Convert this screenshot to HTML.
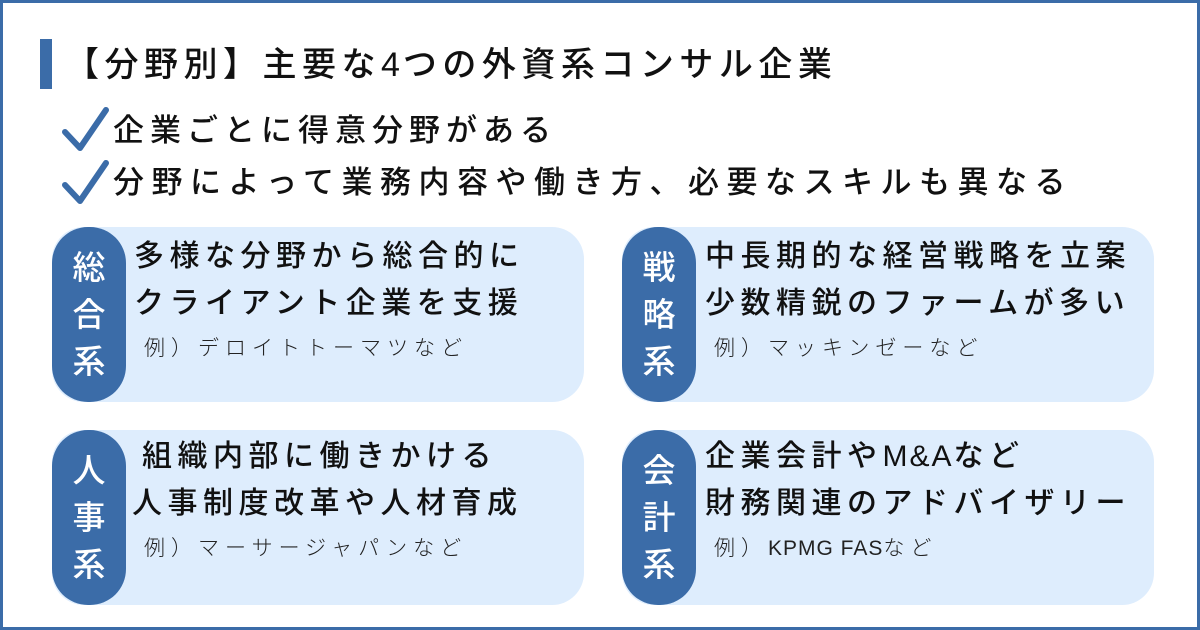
<!DOCTYPE html>
<html><head><meta charset="utf-8"><style>
body{margin:0}
#c{position:relative;width:1200px;height:630px;background:#fff;box-sizing:border-box;border:3px solid #3b6ca8;font-family:"Liberation Sans","Noto Sans CJK JP",sans-serif;color:#111;overflow:hidden}
.a{position:absolute;white-space:nowrap}
.bar{position:absolute;left:37px;top:36px;width:12px;height:50px;background:#3b6ca8}
.card{position:absolute;width:532px;height:175px;background:#deedfd;border-radius:32px}
.pill{position:absolute;left:0;top:0;width:74px;height:175px;background:#3b6ca8;border-radius:36px;color:#fff;font-size:33px;font-weight:500;display:flex;flex-direction:column;align-items:center;justify-content:center;line-height:47px}
.t{position:absolute;font-size:30px;font-weight:500;letter-spacing:5.5px;white-space:nowrap}
.e{position:absolute;font-size:21px;font-weight:300;letter-spacing:6px;white-space:nowrap;color:#222}
.l{letter-spacing:1px}
</style></head><body><div id="c">
<div class="bar"></div>
<div class="a" style="left:62px;top:38px;font-size:34px;font-weight:500;letter-spacing:5.5px;line-height:48px">【分野別】主要な<span style="letter-spacing:3px">4</span>つの外資系コンサル企業</div>
<svg class="a" style="left:58px;top:103px" width="50" height="100"><path d="M4 26 L19 42 L45 4" fill="none" stroke="#3b6ca8" stroke-width="6" stroke-linecap="round" stroke-linejoin="round"/><path d="M4 79 L19 95 L45 57" fill="none" stroke="#3b6ca8" stroke-width="6" stroke-linecap="round" stroke-linejoin="round"/></svg>
<div class="a" style="left:110px;top:106px;font-size:31px;font-weight:500;letter-spacing:6px;line-height:44px">企業ごとに得意分野がある</div>
<div class="a" style="left:110px;top:158px;font-size:31px;font-weight:500;letter-spacing:7.5px;line-height:44px">分野によって業務内容や働き方、必要なスキルも異なる</div>

<div class="card" style="left:49px;top:224px"><div class="pill"><span>総</span><span>合</span><span>系</span></div>
<div class="t" style="left:82px;top:8px;line-height:44px">多様な分野から総合的に</div>
<div class="t" style="left:82px;top:55px;line-height:44px">クライアント企業を支援</div>
<div class="e" style="left:92px;top:106px;line-height:32px">例）デロイトトーマツなど</div></div>

<div class="card" style="left:619px;top:224px"><div class="pill"><span>戦</span><span>略</span><span>系</span></div>
<div class="t" style="left:83px;top:8px;line-height:44px">中長期的な経営戦略を立案</div>
<div class="t" style="left:83px;top:55px;line-height:44px">少数精鋭のファームが多い</div>
<div class="e" style="left:92px;top:106px;line-height:32px">例）マッキンゼーなど</div></div>

<div class="card" style="left:49px;top:427px"><div class="pill"><span>人</span><span>事</span><span>系</span></div>
<div class="t" style="left:90px;top:5px;line-height:44px">組織内部に働きかける</div>
<div class="t" style="left:80px;top:52px;line-height:44px">人事制度改革や人材育成</div>
<div class="e" style="left:92px;top:103px;line-height:32px">例）マーサージャパンなど</div></div>

<div class="card" style="left:619px;top:427px"><div class="pill"><span>会</span><span>計</span><span>系</span></div>
<div class="t" style="left:83px;top:5px;line-height:44px">企業会計や<span style="letter-spacing:2px">M&amp;A</span>など</div>
<div class="t" style="left:83px;top:52px;line-height:44px">財務関連のアドバイザリー</div>
<div class="e" style="left:92px;top:103px;line-height:32px">例）<span class="l">KPMG FAS</span>など</div></div>
</div></body></html>
